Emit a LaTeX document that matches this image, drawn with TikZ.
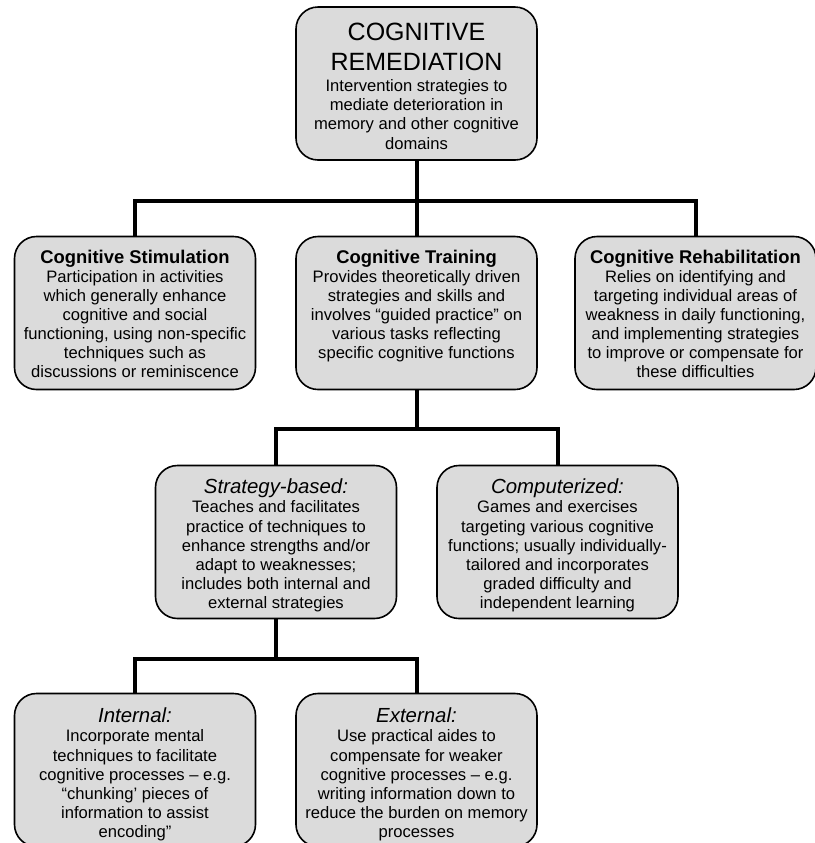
\documentclass[tikz,border=0pt]{standalone}
\usepackage{fontspec}
\setmainfont{Liberation Sans}
\usetikzlibrary{positioning}
\definecolor{boxgrey}{gray}{0.86}
\newcommand{\bhead}[1]{{\fontsize{9.2}{9.55}\selectfont\bfseries #1}}
\newcommand{\ihead}[1]{{\fontsize{10.2}{9.55}\selectfont\itshape #1}}

\begin{document}
\begin{tikzpicture}[x=0.5pt,y=-0.5pt]
\tikzstyle{box}=[draw=black,line width=0.8pt,fill=boxgrey,rounded corners=11pt,minimum width=120.5pt,minimum height=76.5pt,inner sep=0pt]
\tikzstyle{txt}=[inner sep=0pt,align=center,font=\fontsize{8.3}{9.55}\selectfont]
\tikzstyle{link}=[line width=2pt]
\useasboundingbox (0,0) rectangle (815,843);

\node [box] at (416.5,83.5) (remed) {};
\node [box] at (135,313) (stim) {};
\node [box] at (416.5,313) (train) {};
\node [box] at (695.5,313) (rehab) {};
\node [box] at (276,542) (strat) {};
\node [box] at (557.5,542) (comp) {};
\node [box] at (135,770) (inter) {};
\node [box] at (416.5,770) (exter) {};

\node [txt,below=8pt of remed.north] (remedtxt) {{\fontsize{12.5}{15}\selectfont COGNITIVE}\\[5.45pt]
  {\fontsize{12.5}{15}\selectfont REMEDIATION}\\[1.3pt]
  Intervention strategies to\\mediate deterioration in\\memory and other cognitive\\domains};
\node [txt,below=6.8pt of stim.north] (stimtxt) {\bhead{Cognitive Stimulation}\\Participation in activities\\which generally enhance\\cognitive and social\\functioning, using non-specific\\techniques such as\\discussions or reminiscence};
\node [txt,below=6.8pt of train.north] (traintxt) {\bhead{Cognitive Training}\\Provides theoretically driven\\strategies and skills and\\involves “guided practice” on\\various tasks reflecting\\specific cognitive functions};
\node [txt,below=6.8pt of rehab.north] (rehabtxt) {\bhead{Cognitive Rehabilitation}\\Relies on identifying and\\targeting individual areas of\\weakness in daily functioning,\\and implementing strategies\\to improve or compensate for\\these difficulties};
\node [txt,below=7pt of strat.north] (strattxt) {\ihead{Strategy-based:}\\Teaches and facilitates\\practice of techniques to\\enhance strengths and/or\\adapt to weaknesses;\\includes both internal and\\external strategies};
\node [txt,below=7pt of comp.north] (comptxt) {\ihead{Computerized:}\\Games and exercises\\targeting various cognitive\\functions; usually individually-\\tailored and incorporates\\graded difficulty and\\independent learning};
\node [txt,below=7.5pt of inter.north] (intertxt) {\ihead{Internal:}\\Incorporate mental\\techniques to facilitate\\cognitive processes – e.g.\\“chunking’ pieces of\\information to assist\\encoding”};
\node [txt,below=7.5pt of exter.north] (extertxt) {\ihead{External:}\\Use practical aides to\\compensate for weaker\\cognitive processes – e.g.\\writing information down to\\reduce the burden on memory\\processes};

\draw [link] (stim.north) -- ++(0,-35) coordinate (barone) -| (rehab.north);
\draw [link] (remed.south) -- (train.north);
\draw [link] (strat.north) -- ++(0,-36) coordinate (bartwo) -| (comp.north);
\draw [link] (train.south) -- (train.south |- bartwo);
\draw [link] (inter.north) -- ++(0,-34) coordinate (barthree) -| (exter.north);
\draw [link] (strat.south) -- (strat.south |- barthree);
\end{tikzpicture}
\end{document}
